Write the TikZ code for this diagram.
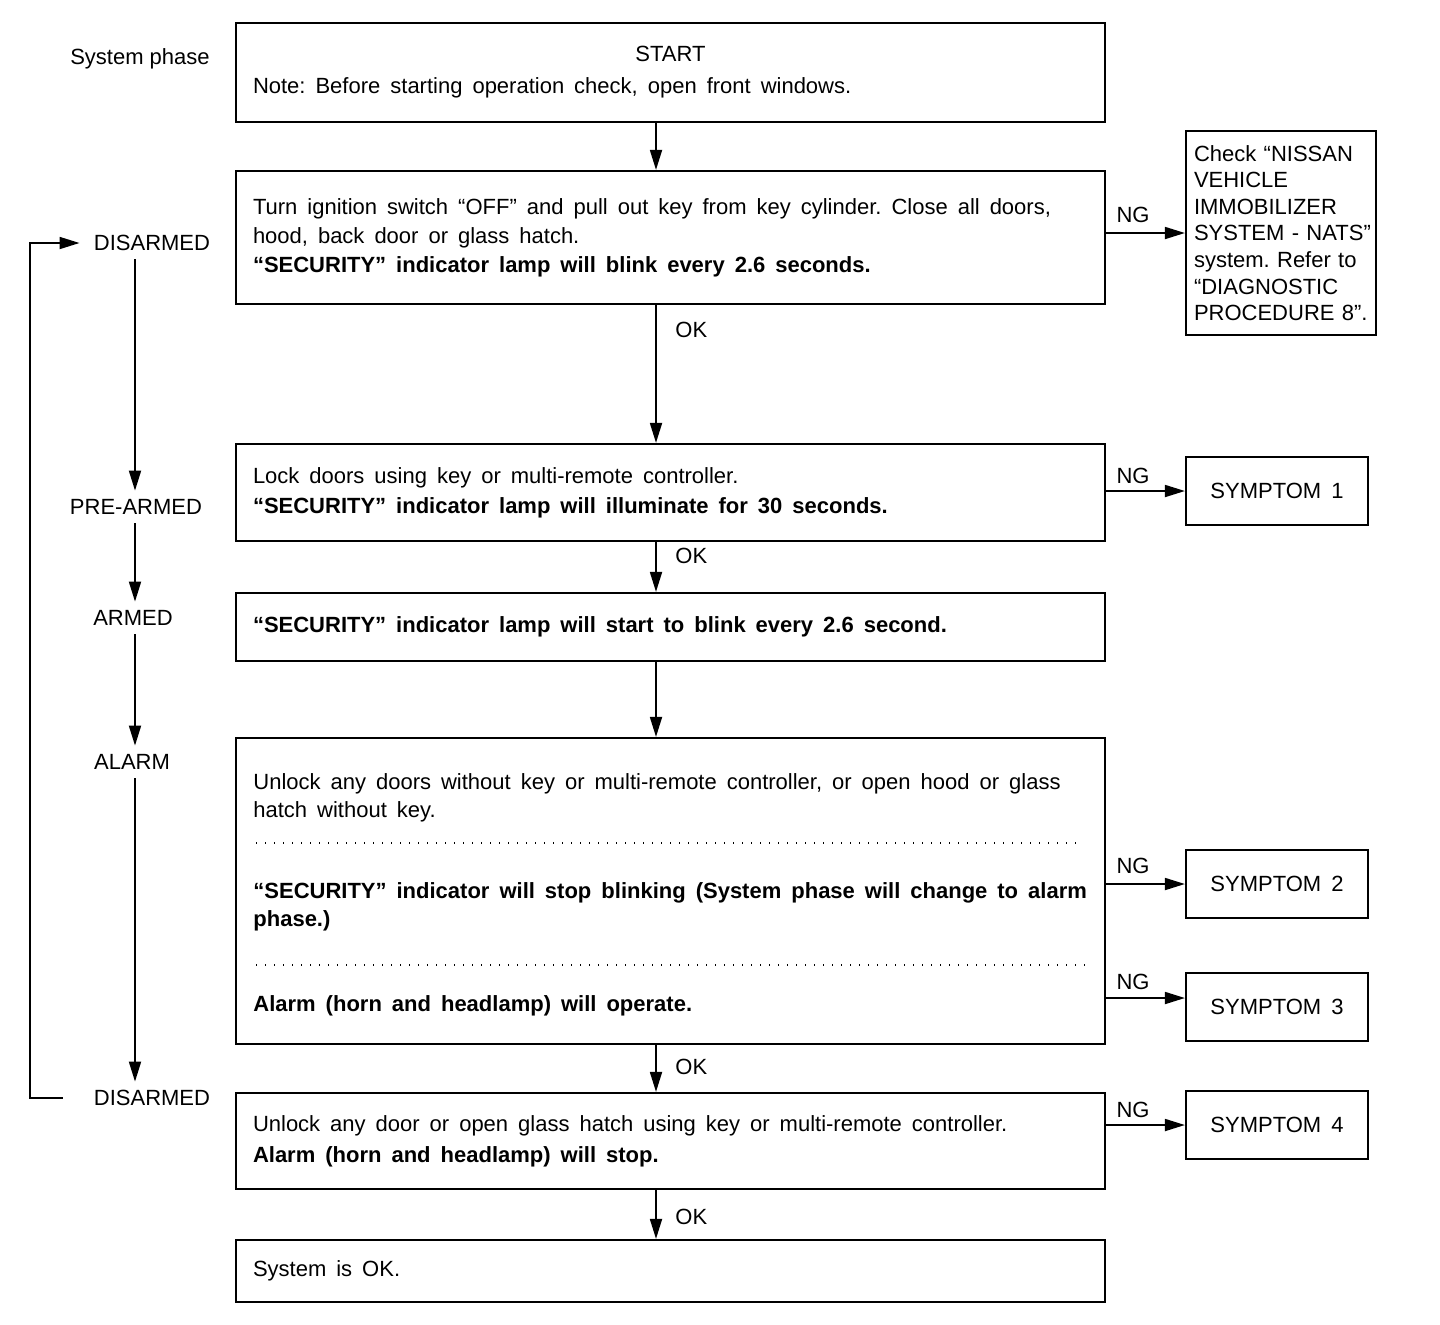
\documentclass[tikz,border=0pt]{standalone}
\usepackage{fontspec}
\setmainfont{Liberation Sans}
\usetikzlibrary{arrows.meta,calc}
\newcommand\mainfnt{\fontsize{11pt}{14.5pt}\selectfont\frenchspacing\spaceskip=5pt plus 1pt minus 1pt\relax}
\newcommand\plainfnt{\fontsize{11pt}{13.3pt}\selectfont\frenchspacing}
\tikzset{
  box/.style={draw, line width=1.1pt, inner xsep=8.5pt, inner ysep=0pt, text width=417.5pt,
    minimum width=434.5pt, align=left, font=\mainfnt, execute at begin node=\mainfnt},
  sidebox/.style={draw, line width=1.1pt, minimum width=91pt, minimum height=34pt, inner sep=0pt,
    font=\mainfnt},
  natsbox/.style={draw, line width=1.1pt, minimum width=95pt, minimum height=102pt, inner xsep=4pt,
    inner ysep=0pt, text width=87pt, align=left, font=\plainfnt, execute at begin node=\plainfnt},
  arr/.style={line width=0.9pt, -{Triangle[length=10pt,width=6pt]}},
  phase/.style={inner sep=0pt, minimum height=16pt, font=\plainfnt},
  lbl/.style={inner sep=0pt, font=\plainfnt},
  txt/.style={inner sep=0pt, font=\mainfnt, anchor=base west},
  dotline/.style={line width=0.7pt, dash pattern=on 0.7pt off 3.8pt},
}
\begin{document}
\begin{tikzpicture}[x=0.5pt,y=-0.5pt]
\useasboundingbox (0,0) rectangle (1440,1324);
% main boxes
\node[box, minimum height=49.5pt] (b1) at (670.5,72.5)
  {\makebox[\linewidth]{START}\\[1.5pt]Note: Before starting operation check, open front windows.};
\node[box, minimum height=66.5pt] (b2) at (670.5,237.5)
  {Turn ignition switch “OFF” and pull out key from key cylinder. Close all doors,\\
   hood, back door or glass hatch.\\
   \textbf{“SECURITY” indicator lamp will blink every 2.6 seconds.}};
\node[box, minimum height=48.5pt] (b3) at (670.5,492.5)
  {Lock doors using key or multi-remote controller.\\[0.5pt]
   \textbf{“SECURITY” indicator lamp will illuminate for 30 seconds.}};
\node[box, minimum height=34pt] (b4) at (670.5,627)
  {\textbf{“SECURITY” indicator lamp will start to blink every 2.6 second.}};
\node[box, minimum height=153pt] (b5) at (670.5,891) {};
\node[box, minimum height=48pt] (b6) at (670.5,1141)
  {Unlock any door or open glass hatch using key or multi-remote controller.\\[1pt]
   \textbf{Alarm (horn and headlamp) will stop.}};
\node[box, minimum height=31pt] (b7) at (670.5,1271) {System is OK.};
% box 5 contents
\node[txt] (t5a) at (253,789) {Unlock any doors without key or multi-remote controller, or open hood or glass};
\node[txt] (t5b) at (253,817) {hatch without key.};
\node[txt] (t5c) at (253,898) {\bfseries “SECURITY” indicator will stop blinking (System phase will change to alarm};
\node[txt] (t5d) at (253,926) {\bfseries phase.)};
\node[txt] (t5e) at (253,1011) {\bfseries Alarm (horn and headlamp) will operate.};
\draw[dotline] (256,843) -- (1082,843);
\draw[dotline] (256,965) -- (1090,965);
% side boxes
\node[natsbox] (nats) at (1281,233)
  {\mbox{Check “NISSAN}\\ \mbox{VEHICLE}\\ \mbox{IMMOBILIZER}\\ \mbox{SYSTEM - NATS”}\\ \mbox{system. Refer to}\\ \mbox{“DIAGNOSTIC}\\ \mbox{PROCEDURE 8”.}};
\node[sidebox] (s1) at (1277,491) {SYMPTOM 1};
\node[sidebox] (s2) at (1277,884) {SYMPTOM 2};
\node[sidebox] (s3) at (1277,1007) {SYMPTOM 3};
\node[sidebox] (s4) at (1277,1125) {SYMPTOM 4};
% NG connectors
\draw[arr] (nats.west -| b2.east) -- (nats.west);
\draw[arr] (s1.west -| b3.east) -- (s1.west);
\draw[arr] (s2.west -| b5.east) -- (s2.west);
\draw[arr] ([yshift=4.5pt]s3.west -| b5.east) -- ([yshift=4.5pt]s3.west);
\draw[arr] (s4.west -| b6.east) -- (s4.west);
\node[lbl] (ng1) at (1133,215) {NG};
\node[lbl] (ng2) at (1133,476) {NG};
\node[lbl] (ng3) at (1133,866) {NG};
\node[lbl] (ng4) at (1133,982) {NG};
\node[lbl] (ng5) at (1133,1110) {NG};
% main spine
\coordinate (spine) at (656,0);
\draw[arr] (b1.south -| spine) -- (b2.north -| spine);
\draw[arr] (b2.south -| spine) -- (b3.north -| spine);
\draw[arr] (b3.south -| spine) -- (b4.north -| spine);
\draw[arr] (b4.south -| spine) -- (b5.north -| spine);
\draw[arr] (b5.south -| spine) -- (b6.north -| spine);
\draw[arr] (b6.south -| spine) -- (b7.north -| spine);
\node[lbl, anchor=west] (ok1) at (675,330) {OK};
\node[lbl, anchor=west] (ok2) at (675,556) {OK};
\node[lbl, anchor=west] (ok3) at (675,1067) {OK};
\node[lbl, anchor=west] (ok4) at (675,1217) {OK};
% phases
\node[lbl, anchor=base] (sysph) at (140,64) {System phase};
\node[phase] (dis1) at (152,243) {DISARMED};
\node[phase] (pre) at (136,507) {PRE-ARMED};
\node[phase] (arm) at (133,618) {ARMED};
\node[phase] (alm) at (132,762) {ALARM};
\node[phase] (dis2) at (152,1098) {DISARMED};
\coordinate (px) at (135,0);
\draw[arr] (dis1.south -| px) -- (pre.north -| px);
\draw[arr] (pre.south -| px) -- (arm.north -| px);
\draw[arr] (arm.south -| px) -- (alm.north -| px);
\draw[arr] (alm.south -| px) -- (dis2.north -| px);
\coordinate (loopx) at (30,0);
\draw[arr] ([xshift=-15.5pt]dis2.west) -- (dis2.west -| loopx) -- (dis1.west -| loopx) -- ([xshift=-7pt]dis1.west);
\end{tikzpicture}
\end{document}
